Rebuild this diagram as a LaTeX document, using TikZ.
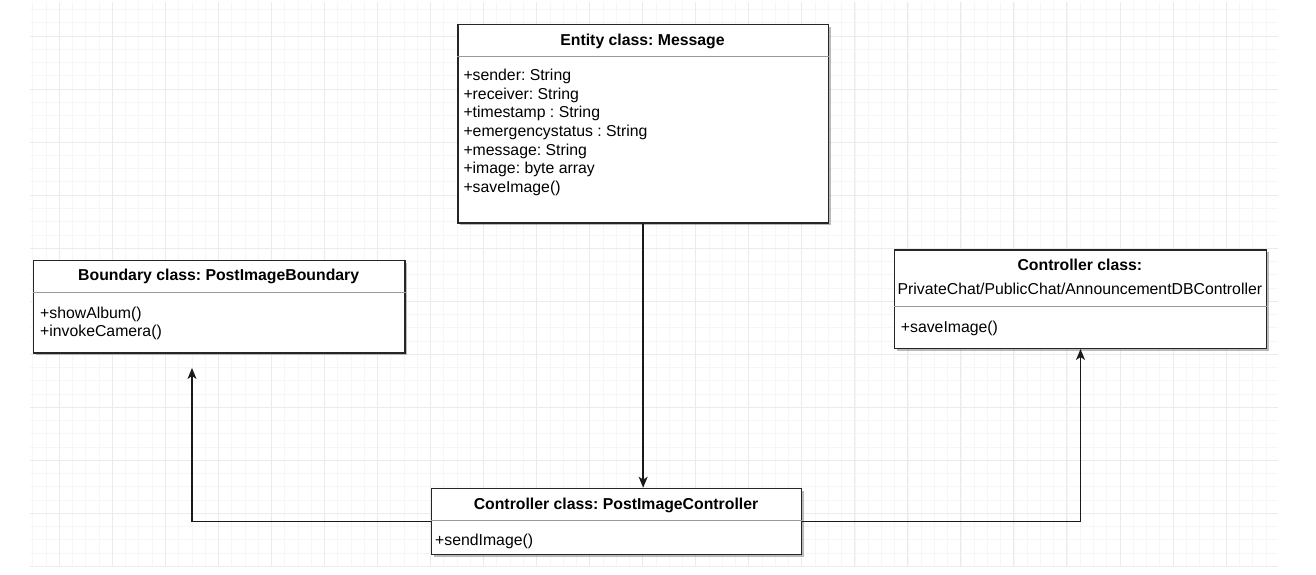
\documentclass[tikz,border=0pt]{standalone}
\usepackage{fontspec}
\setmainfont{Liberation Sans}
\frenchspacing
\usetikzlibrary{arrows.meta,shadows}

\begin{document}
\begin{tikzpicture}[x=1pt,y=-1pt,
    minorline/.style={draw=black!3.5, line width=0.8pt},
    majorline/.style={draw=black!8, line width=0.8pt},
    classbox/.style={draw=black!85, line width=1.3pt, fill=white, inner sep=0pt, anchor=north west,
        drop shadow={shadow xshift=2.5pt, shadow yshift=-2.5pt, fill=black!45, opacity=0.6}},
    classname/.style={font=\fontsize{15.8}{18.6}\selectfont\bfseries, anchor=base, inner sep=0pt},
    classline/.style={font=\fontsize{15.8}{18.6}\selectfont, anchor=base, inner sep=0pt},
    members/.style={font=\fontsize{15.8}{18.6}\selectfont, align=left, anchor=north west, inner sep=0pt},
    divider/.style={draw=black!40, line width=0.9pt},
    link/.style={draw=black!90, line width=1.4pt, -{Stealth[length=11pt,width=9pt,inset=3pt]}}]

\useasboundingbox (0,0) rectangle (1316,574);

% Draw the background grid
\begin{scope}
\clip (30,2) rectangle (1278,567);
\foreach \k in {-3,...,92} \draw[minorline] ({59.3+13.26*\k},2) -- ({59.3+13.26*\k},567);
\foreach \k in {-3,...,40} \draw[minorline] (30,{36+13.26*\k}) -- (1278,{36+13.26*\k});
\foreach \k in {-1,...,23} \draw[majorline] ({59.3+53.03*\k},2) -- ({59.3+53.03*\k},567);
\foreach \k in {-1,...,10} \draw[majorline] (30,{36+53.03*\k}) -- (1278,{36+53.03*\k});
\end{scope}

% Entity class
\node[classbox, minimum width=370.4pt, minimum height=198.3pt] (msg) at (457.3,24) {};
\draw[divider] (msg.west |- 0,56.7) -- (msg.east |- 0,56.7);
\node[classname] (msg-name) at (642.5,45) {Entity class: Message};
\node[members] (msg-attr) at (463.3,69) {+sender: String\\+receiver: String\\+timestamp : String\\+emergencystatus : String\\+message: String\\+image: byte array\\+saveImage()};

% Boundary class
\node[classbox, minimum width=371.3pt, minimum height=92.3pt] (bnd) at (33,260) {};
\draw[divider] (bnd.west |- 0,292.7) -- (bnd.east |- 0,292.7);
\node[classname] (bnd-name) at (218.7,280) {Boundary class: PostImageBoundary};
\node[members] (bnd-ops) at (40,306.5) {+showAlbum()\\+invokeCamera()};

% Controller class (database side)
\node[classbox, minimum width=371.7pt, minimum height=98.4pt] (chat) at (894,249.3) {};
\draw[divider] (chat.west |- 0,306.7) -- (chat.east |- 0,306.7);
\node[classname] (chat-name) at (1079.9,270) {Controller class:};
\node[classline] (chat-sub) at (1079.9,294) {PrivateChat/PublicChat/AnnouncementDBController};
\node[members] (chat-ops) at (900.7,320.5) {+saveImage()};

% Controller class (post image)
\node[classbox, minimum width=370pt, minimum height=66.3pt] (ctrl) at (431,487.7) {};
\draw[divider] (ctrl.west |- 0,520) -- (ctrl.east |- 0,520);
\node[classname] (ctrl-name) at (616,509) {Controller class: PostImageController};
\node[members] (ctrl-ops) at (435,533.5) {+sendImage()};

% Connectors
\coordinate (bnd-in) at (192,368);
\draw[link] (msg.south) -- (msg.south |- ctrl.north);
\draw[link] (ctrl.west) -| (bnd-in);
\draw[link] (ctrl.east) -| (chat.south);
\end{tikzpicture}
\end{document}
